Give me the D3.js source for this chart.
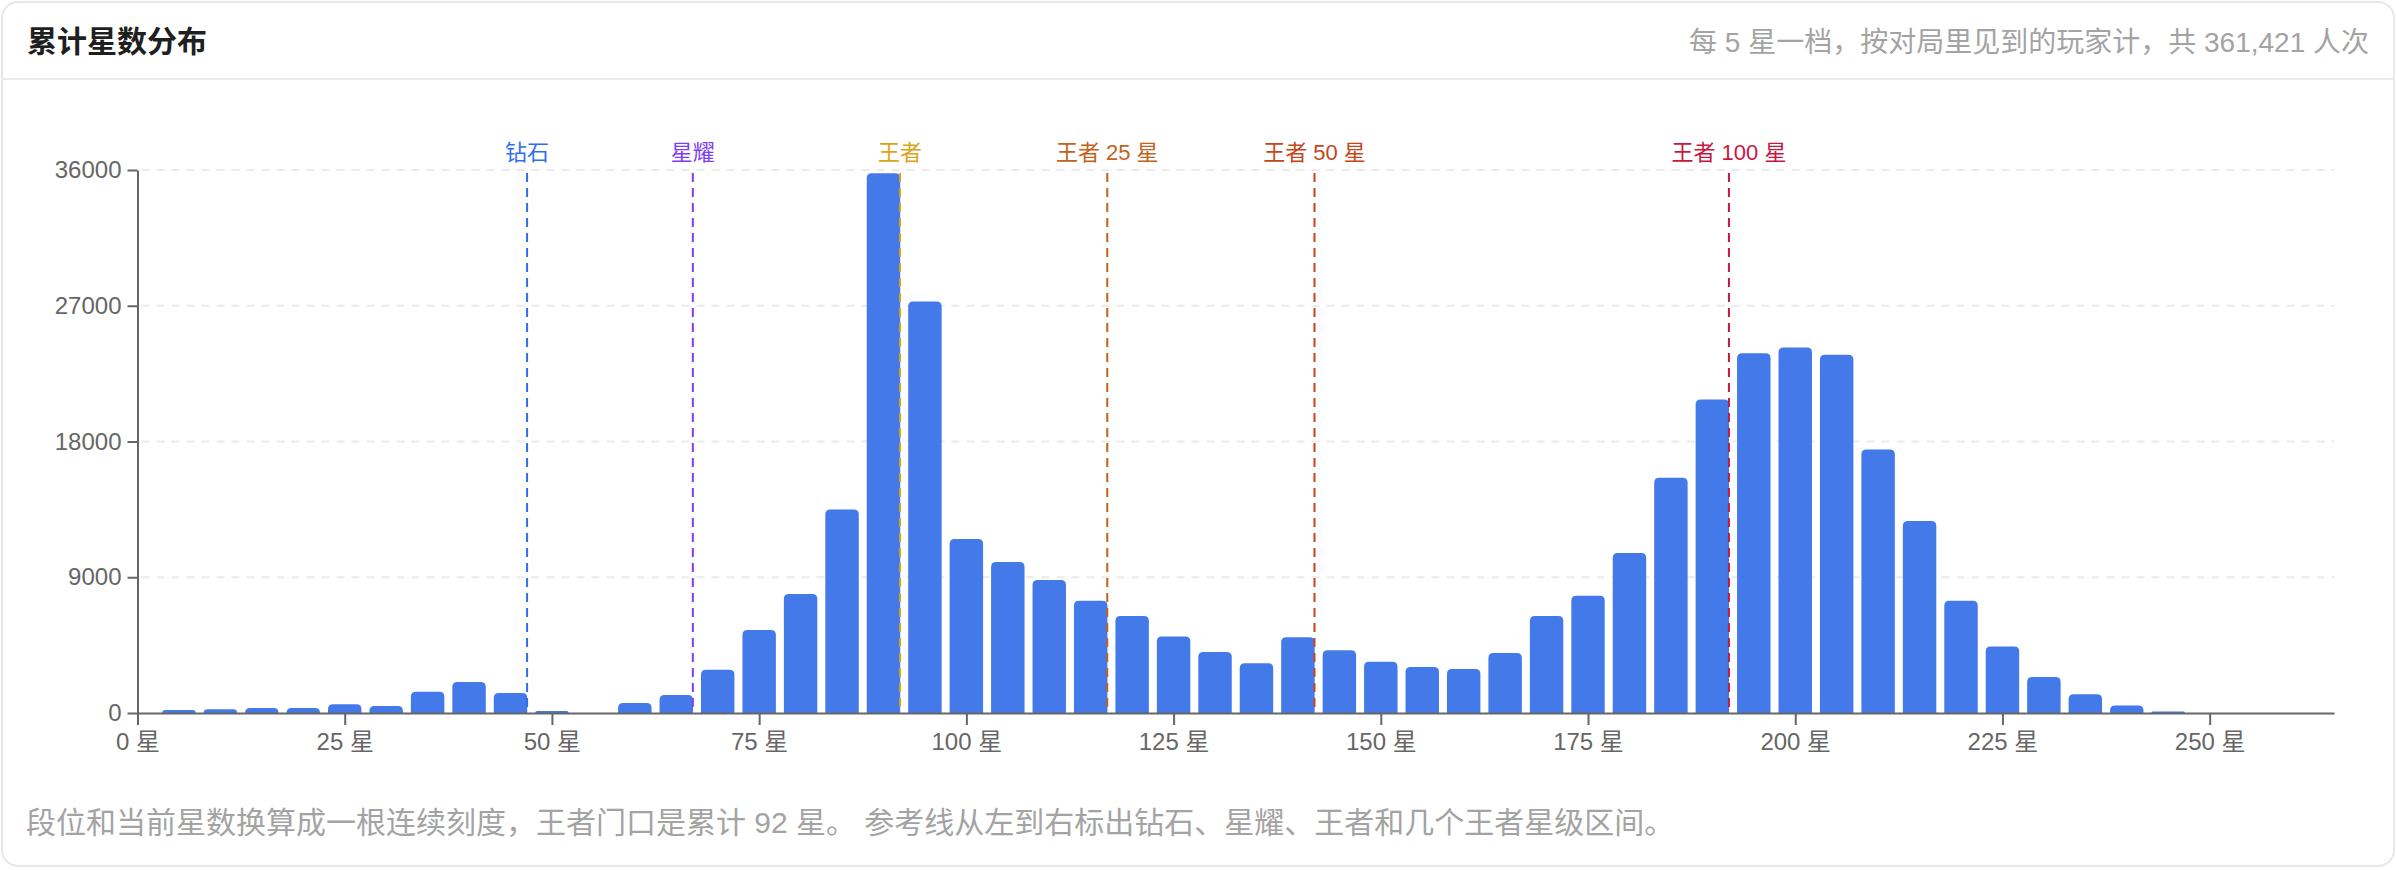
<!DOCTYPE html>
<html>
<head>
<meta charset="utf-8">
<script src="https://cdn.jsdelivr.net/npm/d3@7"></script>
<style>
  body { margin: 0; background: #fff; }
  svg { display: block; font-family: "Helvetica Neue", "Liberation Sans", "Noto Sans CJK SC", sans-serif; }
</style>
</head>
<body>
<div id="chart-area"></div>
<script>
// bins of 5 stars, value = players seen in that bin
let binStars = [5, 10, 15, 20, 25, 30, 35, 40, 45, 50, 55, 60, 65, 70, 75, 80, 85, 90, 95, 100,
    105, 110, 115, 120, 125, 130, 135, 140, 145, 150, 155, 160, 165, 170, 175, 180, 185, 190,
    195, 200, 205, 210, 215, 220, 225, 230, 235, 240, 245];
let binCounts = [200, 245, 330, 330, 575, 465, 1415, 2055, 1325, 135, 0, 660, 1195, 2860, 5510, 7890, 13500, 35780, 27290, 11530,
    10010, 8810, 7440, 6425, 5080, 4045, 3300, 5030, 4165, 3395, 3055, 2910, 3970, 6425, 7775, 10610, 15595, 20790,
    23850, 24235, 23750, 17470, 12730, 7440, 4405, 2380, 1250, 505, 95];

let markerNames = ["钻石", "星耀", "王者", "王者 25 星", "王者 50 星", "王者 100 星"];
let markerStars = [47, 67, 92, 117, 142, 192];
let markerColors = ["#2f6fef", "#7e3ff0", "#dba31a", "#c2621c", "#c6461a", "#c8173f"];

let xTicks = [0, 25, 50, 75, 100, 125, 150, 175, 200, 225, 250];
let yTicks = [0, 9000, 18000, 27000, 36000];

let titleText = "累计星数分布";
let subtitleText = "每 5 星一档，按对局里见到的玩家计，共 361,421 人次";
let captionText = "段位和当前星数换算成一根连续刻度，王者门口是累计 92 星。 参考线从左到右标出钻石、星耀、王者和几个王者星级区间。";

let W = 2396, H = 870;
let plot = {left: 137.5, right: 2334, top: 170, bottom: 713};

let svg = d3.select("#chart-area")
    .append("svg")
    .attr("width", W)
    .attr("height", H);

// card
svg.append("rect")
    .attr("x", 2).attr("y", 2)
    .attr("width", W - 4).attr("height", H - 6)
    .attr("rx", 16)
    .attr("fill", "#fff")
    .attr("stroke", "#e8e8e8")
    .attr("stroke-width", 2);

svg.append("line")
    .attr("x1", 2).attr("x2", W - 2)
    .attr("y1", 79).attr("y2", 79)
    .attr("stroke", "#ececec")
    .attr("stroke-width", 2);

svg.append("text")
    .attr("x", 27).attr("y", 52)
    .attr("font-size", 30)
    .attr("font-weight", "bold")
    .attr("fill", "#1f1f1f")
    .text(titleText);

svg.append("text")
    .attr("x", 2369).attr("y", 52)
    .attr("text-anchor", "end")
    .attr("font-size", 28)
    .attr("fill", "#a3a3a3")
    .text(subtitleText);

svg.append("text")
    .attr("x", 26).attr("y", 833)
    .attr("font-size", 30)
    .attr("fill", "#a3a3a3")
    .text(captionText);

// scales
let x = d3.scaleLinear().domain([0, 265]).range([plot.left, plot.right]);
let y = d3.scaleLinear().domain([0, 36000]).range([plot.bottom, plot.top]);

// grid
svg.append("g")
    .selectAll("line")
    .data(yTicks.filter(d => d > 0))
    .enter()
    .append("line")
    .attr("x1", plot.left + 4).attr("x2", plot.right)
    .attr("y1", d => y(d)).attr("y2", d => y(d))
    .attr("stroke", "#ebebeb")
    .attr("stroke-width", 2)
    .attr("stroke-dasharray", "8,7");

// bars, rounded on top
function barPath(s, v) {
    let x0 = x(s - 2.5) + 4, x1 = x(s + 2.5) - 4;
    let y0 = y(0), y1 = y(v);
    let r = Math.min(5, (y0 - y1), (x1 - x0) / 2);
    return `M${x0},${y0} L${x0},${y1 + r} Q${x0},${y1} ${x0 + r},${y1} L${x1 - r},${y1} Q${x1},${y1} ${x1},${y1 + r} L${x1},${y0} Z`;
}

svg.append("g")
    .selectAll("path")
    .data(binStars.map((s, i) => [s, binCounts[i]]).filter(d => d[1] > 0))
    .enter()
    .append("path")
    .attr("d", d => barPath(d[0], d[1]))
    .attr("fill", "#4479ea");

// reference lines
let markers = svg.append("g")
    .selectAll("g")
    .data(markerStars.map((s, i) => ({s: s, name: markerNames[i], color: markerColors[i]})))
    .enter()
    .append("g");

markers.append("line")
    .attr("x1", d => x(d.s)).attr("x2", d => x(d.s))
    .attr("y1", plot.top + 3).attr("y2", plot.bottom)
    .attr("stroke", d => d.color)
    .attr("stroke-width", 2)
    .attr("stroke-dasharray", "9,6");

markers.append("text")
    .attr("x", d => x(d.s))
    .attr("y", 160)
    .attr("text-anchor", "middle")
    .attr("font-size", 22)
    .attr("fill", d => d.color)
    .text(d => d.name);

// axes
let xAxisGroup = svg.append("g")
    .attr("transform", `translate(0,${plot.bottom})`)
    .call(d3.axisBottom(x).tickValues(xTicks).tickSize(12).tickSizeOuter(0).tickPadding(8).tickFormat(d => d + " 星"));

let yAxisGroup = svg.append("g")
    .attr("transform", `translate(${plot.left},0)`)
    .call(d3.axisLeft(y).tickValues(yTicks).tickSize(10).tickSizeOuter(0).tickPadding(6).tickFormat(d => d));

[xAxisGroup, yAxisGroup].forEach(g => {
    g.selectAll("path, line").attr("stroke", "#666").attr("stroke-width", 2);
    g.selectAll("text")
        .attr("font-size", 24)
        .attr("fill", "#666")
        .attr("font-family", "\"Helvetica Neue\", \"Liberation Sans\", \"Noto Sans CJK SC\", sans-serif");
});
</script>
</body>
</html>
